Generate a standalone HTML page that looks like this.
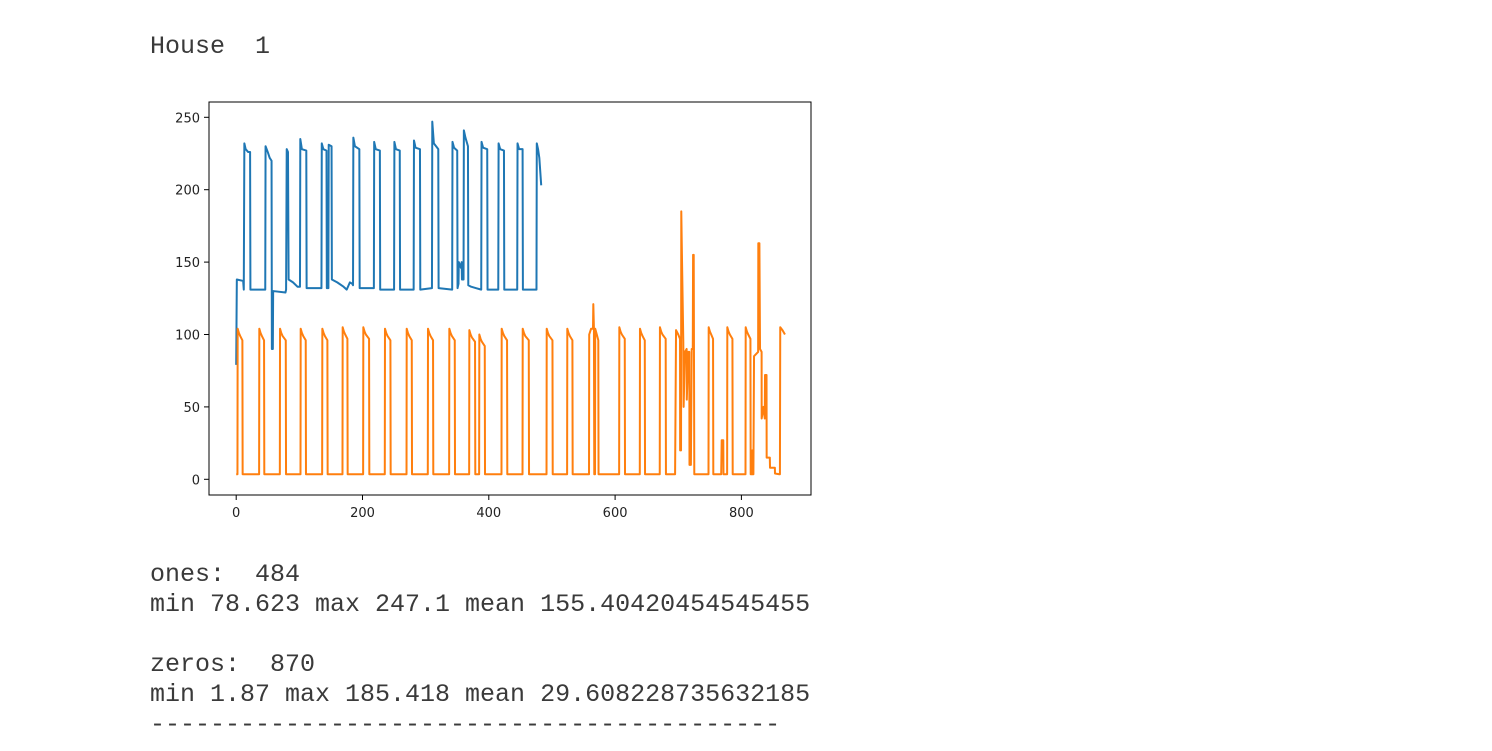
<!DOCTYPE html>
<html><head><meta charset="utf-8"><style>
body{margin:0;background:#fff;width:1492px;height:751px;overflow:hidden;position:relative}
.txt{position:absolute;left:150px;margin:0;font-family:"Liberation Mono",monospace;font-size:25px;line-height:30px;color:#3a3a3a;white-space:pre}
svg{position:absolute;left:0;top:0}
</style></head><body>
<pre class="txt" style="top:32px">House  1</pre>
<svg id="chart" width="1492" height="751"></svg>
<pre class="txt" style="top:560px">ones:  484
min 78.623 max 247.1 mean 155.40420454545455

zeros:  870
min 1.87 max 185.418 mean 29.608228735632185
------------------------------------------</pre>
<script>
const xTicks=[0,200,400,600,800];
const yTicks=[0,50,100,150,200,250];
const bluePts=[[0,79],[1,138],[11,137],[12,131],[12.9,232],[15,228],[19,226],[22,226],[22.5,131],
[46,131],[46.5,230],[50,226],[53,222],[56,220],[56.5,90],[58,90],[58.5,130],[78,129],[79,131],[80,228],[82,226],[83,138],[90,136],[97,133],
[101,133],[101.5,235],[104,228],[111,227],[111.5,132],[135,132],[135.5,232],[138,228],[143,227],[143.5,132],[146,132],[146.5,231],[151,230],[151.5,138],[160,136],[170,133],[175,131],[180,136],[184,135],
[185,134],[185.5,236],[188,230],[195,228],[195.5,132],[218,132],[218.5,233],[221,228],[227.5,227],[228,131],
[250,131],[250.5,233],[253,228],[259,227],[259.5,131],[281,131],[281.5,234],[284,229],[291,228],[291.5,131],
[310,132],[310.5,247],[313,232],[320,228],[320.5,132],[342,131],[342.5,233],[345,229],[350,227],[350.5,132],[352,135],[352.5,150],[356,146],[357,150],[357.5,138],[360,138],
[360.5,241],[363,236],[367,230],[367.5,134],[372,133],[380,132],[388,131],[388.5,233],[391,229],[397.5,228],[398,131],
[415,131],[415.5,232],[418,228],[424,227],[424.5,131],[445,131],[445.5,232],[448,228],[453.5,228],[454,131],
[475.5,131],[476,232],[478,228],[480,222],[483,203]];
const orangePulseStart=[2.3,36.6,69.4,102.1,136.4,168.6,201.3,235.6,270,303.7,337.5,369.2,385,420.4,453.7,491.7,524.3,606.7,639.4,671,748.2,777.7,806.8];
const orangePulseEnd=[10.2,44.5,78.9,110.5,144.8,176.5,210.8,244.6,278.4,312.1,346.5,378.6,394,429.3,463.7,501.2,532.8,615.7,647.4,680.5,755.5,786.2,814.7];
const orangePulsePeak=[104,104,104,104,104,105,105,104,104,104,104,103,100,104,104,104,104,105,104,105,105,105,105];
const orangeIrregular=[[556,3.5],[558.7,3.5],[559,100],[562,104],[565,104],[565.5,121],[566.5,104],[567,3.5],[568.2,3.5],[568.5,104],[571,100],[573.4,96],[573.8,3.5],
[695,3.5],[696.5,103],[700,100],[702.8,97],[703,20],[704.4,20],[704.8,185],[706,150],[708,95],[708.5,50],[710.6,88],[713.3,90],[713.5,55],[716,88],[717.5,88],[717.8,10],[720,10],[721.3,90],[723,90],[723.5,155],[724.5,155],[725.4,3.5],
[768,3.5],[768.8,27],[771.3,27],[771.6,3.5],[816,3.5],[817.3,20],[817.6,3.5],[819,3.5],[820,85],[826.5,88],[826.8,163],[828.5,163],[829.5,90],[832,88],[832.1,42],[835,50],[837,42],[837.4,72],[839.8,72],[840,15],[845,15],[845.3,8],[853,8],[853.2,4],[860,3.5],
[861,3.5],[861.5,105],[865,103],[869,100]];
const X0=209,X1=811,Y0=102,Y1=495;
function sx(v){return 236.2+v*0.6315;}
function sy(v){return 479.3-v*1.448;}
const svg=document.getElementById('chart');const NS='http://www.w3.org/2000/svg';
function mk(t,a){const e=document.createElementNS(NS,t);for(const k in a)e.setAttribute(k,a[k]);svg.appendChild(e);return e;}
let orangePts=[[0,3.5]];
for(let i=0;i<orangePulseStart.length;i++){
  const a=orangePulseStart[i],b=orangePulseEnd[i],p=orangePulsePeak[i];
  if(a>556&&orangePts[orangePts.length-1][0]<556){orangePts=orangePts.concat(orangeIrregular.filter(q=>q[0]<600));}
  if(a>695&&orangePts[orangePts.length-1][0]<695){orangePts=orangePts.concat(orangeIrregular.filter(q=>q[0]>=690&&q[0]<730));}
  if(a>768&&orangePts[orangePts.length-1][0]<768){orangePts=orangePts.concat(orangeIrregular.filter(q=>q[0]>=765&&q[0]<775));}
  orangePts.push([a-0.3,3.5],[a,p],[a+2,p-3],[a+4,p-5],[b-0.4,p-8],[b,3.5]);
}
orangePts=orangePts.concat(orangeIrregular.filter(q=>q[0]>=815));
function path(pts){return pts.map((p,i)=>(i?'L':'M')+sx(p[0]).toFixed(2)+' '+sy(p[1]).toFixed(2)).join('');}
const frame=mk('rect',{x:X0,y:Y0,width:X1-X0,height:Y1-Y0,fill:'none',stroke:'#000','stroke-width':1});


const bl=mk('path',{d:path(bluePts),fill:'none',stroke:'#1f77b4','stroke-width':2,'stroke-linejoin':'round'});


const ol=mk('path',{d:path(orangePts),fill:'none',stroke:'#ff7f0e','stroke-width':2,'stroke-linejoin':'round'});


xTicks.forEach(v=>{
  const x=sx(v);
  const t=mk('line',{x1:x,x2:x,y1:Y1,y2:Y1+5,stroke:'#000'});
  
  
  const l=mk('text',{x:x,y:Y1+22,'text-anchor':'middle','font-family':'DejaVu Sans, sans-serif','font-size':13,fill:'#222'});
  l.textContent=v;
  
  
});
yTicks.forEach(v=>{
  const y=sy(v);
  const t=mk('line',{x1:X0-5,x2:X0,y1:y,y2:y,stroke:'#000'});
  
  
  const l=mk('text',{x:X0-9,y:y+5,'text-anchor':'end','font-family':'DejaVu Sans, sans-serif','font-size':13,fill:'#222'});
  l.textContent=v;
  
  
});
</script>
</body></html>
